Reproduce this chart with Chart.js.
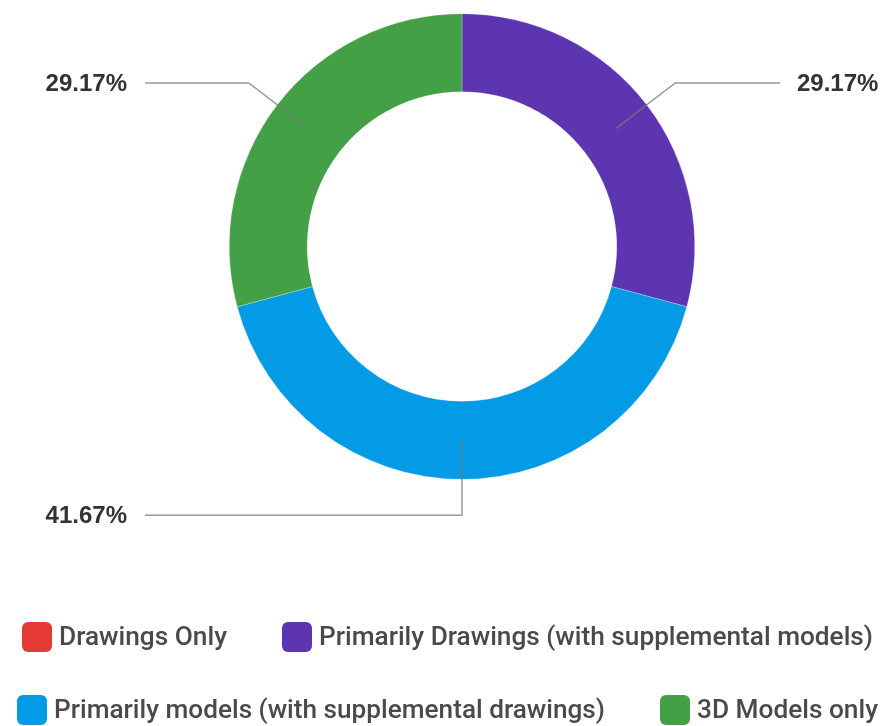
<!DOCTYPE html>
<html>
<head>
<meta charset="utf-8">
<script src="https://cdn.jsdelivr.net/npm/chart.js@4/dist/chart.umd.min.js"></script>
<style>
  html, body { margin: 0; padding: 0; background: #ffffff; }
  #wrap { width: 892px; height: 726px; position: relative; }
</style>
</head>
<body>
<div id="wrap"><canvas id="c" width="892" height="726"></canvas></div>
<script>
// ---- data ----
const categories = [
  "Drawings Only",
  "Primarily Drawings (with supplemental models)",
  "Primarily models (with supplemental drawings)",
  "3D Models only"
];
const responses = [0, 7, 10, 7];
const sliceColors = ["#E53935", "#5E35B1", "#039BE5", "#43A047"];

// legend layout (rows of category indices) and placement
const legendRows = [[0, 1], [2, 3]];
const legendRowCenters = [637, 710];
const legendBoxX = [[22, 282], [17, 660]];
const legendTextRight = [[227, 873], [605, 878]];

const leaderPlugin = {
  id: 'leaders',
  afterDatasetsDraw(chart) {
    const ctx = chart.ctx;
    const meta = chart.getDatasetMeta(0);
    const data = chart.data.datasets[0].data;
    const total = data.reduce((a, b) => a + b, 0);
    meta.data.forEach((arc, i) => {
      const v = data[i];
      if (!v) return;
      const p = arc.getProps(['x', 'y', 'startAngle', 'endAngle', 'innerRadius', 'outerRadius'], true);
      const mid = (p.startAngle + p.endAngle) / 2;
      const rMid = (p.innerRadius + p.outerRadius) / 2;
      const rElb = rMid + 75;
      const x0 = p.x + Math.cos(mid) * rMid, y0 = p.y + Math.sin(mid) * rMid;
      const x1 = p.x + Math.cos(mid) * rElb, y1 = p.y + Math.sin(mid) * rElb;
      const left = x0 <= p.x + 1;
      const x2 = left ? 145 : 780;
      ctx.save();
      ctx.strokeStyle = 'rgba(120,120,120,0.75)';
      ctx.lineWidth = 1.5;
      ctx.beginPath();
      ctx.moveTo(x0, y0);
      ctx.lineTo(x1, y1);
      ctx.lineTo(x2, y1);
      ctx.stroke();
      const txt = (v / total * 100).toFixed(2) + '%';
      ctx.fillStyle = '#333333';
      ctx.font = 'bold 24px "Liberation Sans", Arial, sans-serif';
      ctx.textBaseline = 'middle';
      ctx.textAlign = left ? 'right' : 'left';
      ctx.fillText(txt, left ? 127 : 797, y1 + 1);
      ctx.restore();
    });
  },
  afterDraw(chart) {
    const ctx = chart.ctx;
    const labels = chart.data.labels;
    const colors = chart.data.datasets[0].backgroundColor;
    ctx.save();
    legendRows.forEach((row, r) => {
      const cy = legendRowCenters[r];
      row.forEach((idx, k) => {
        const bx = legendBoxX[r][k];
        ctx.fillStyle = colors[idx];
        ctx.beginPath();
        ctx.roundRect(bx, cy - 15, 30, 30, 6);
        ctx.fill();
        const tx = bx + 37;
        ctx.font = '500 26px Roboto, "Liberation Sans", sans-serif';
        const w = ctx.measureText(labels[idx]).width;
        const sx = (legendTextRight[r][k] - tx) / w;
        ctx.save();
        ctx.translate(tx, cy);
        ctx.scale(sx, 1);
        ctx.fillStyle = '#4a4a4a';
        ctx.textAlign = 'left';
        ctx.textBaseline = 'middle';
        ctx.fillText(labels[idx], 0, 1);
        ctx.restore();
      });
    });
    ctx.restore();
  }
};

new Chart(document.getElementById('c'), {
  type: 'doughnut',
  data: {
    labels: categories,
    datasets: [{
      data: responses,
      backgroundColor: sliceColors,
      borderColor: 'rgba(255,255,255,0.5)',
      borderWidth: 0.5,
      hoverOffset: 0
    }]
  },
  options: {
    responsive: false,
    animation: false,
    devicePixelRatio: 1,
    cutout: '66.5%',
    layout: { padding: { left: 229, right: 197, top: 13, bottom: 246 } },
    plugins: {
      legend: { display: false },
      tooltip: { enabled: false }
    }
  },
  plugins: [leaderPlugin]
});
</script>
</body>
</html>
